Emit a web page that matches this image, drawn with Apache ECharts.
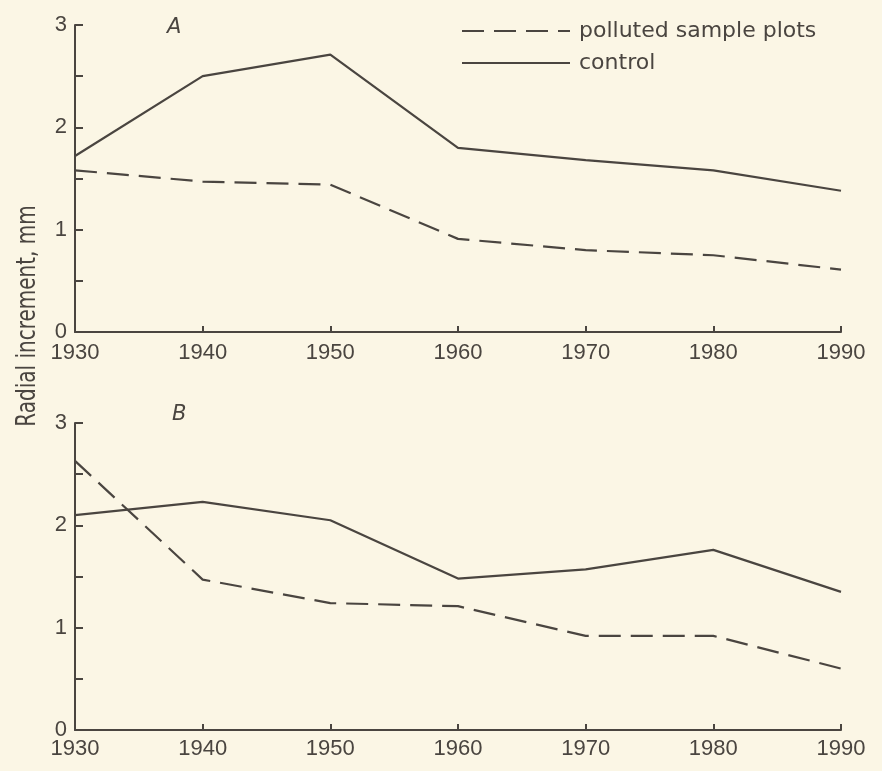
<!DOCTYPE html>
<html>
<head>
<meta charset="utf-8">
<script src="https://cdn.jsdelivr.net/npm/echarts@6/dist/echarts.min.js"></script>
<style>
html,body{margin:0;padding:0;background:#fbf6e5;}
#chart{width:882px;height:771px;}
</style>
</head>
<body>
<div id="chart"></div>
<script>
const years = [1930, 1940, 1950, 1960, 1970, 1980, 1990];
const controlA = [1.72, 2.50, 2.71, 1.80, 1.68, 1.58, 1.38];
const pollutedA = [1.58, 1.47, 1.44, 0.91, 0.80, 0.75, 0.61];
const controlB = [2.10, 2.23, 2.05, 1.48, 1.57, 1.76, 1.35];
const pollutedB = [2.63, 1.47, 1.24, 1.21, 0.92, 0.92, 0.60];
const yTickLabels = ['0', '1', '2', '3'];
const seriesNames = ['polluted sample plots', 'control'];
const panelLabels = ['A', 'B'];
const yTitle = 'Radial increment, mm';

const ink = '#4a4540';
const numFont = 'Liberation Sans';
const pairs = d => years.map((y, i) => [y, d[i]]);

function xAxis(gi) {
  return {
    type: 'value', gridIndex: gi, min: 1930, max: 1990, interval: 10,
    axisLine: {lineStyle: {color: ink, width: 2}},
    axisTick: {inside: true, length: 6, lineStyle: {color: ink, width: 2}},
    splitLine: {show: false},
    axisLabel: {color: ink, fontSize: 22, fontFamily: numFont, margin: gi === 0 ? 10 : 8,
      formatter: v => String(v)}
  };
}
function yAxis(gi) {
  return {
    type: 'value', gridIndex: gi, min: 0, max: 3, interval: 0.5,
    axisLine: {show: true, lineStyle: {color: ink, width: 2}},
    axisTick: {show: true, inside: true, length: 8, lineStyle: {color: ink, width: 2}},
    splitLine: {show: false},
    axisLabel: {color: ink, fontSize: 22, fontFamily: numFont, margin: 8,
      formatter: v => (Math.abs(v - Math.round(v)) < 1e-9 ? yTickLabels[Math.round(v)] : '')}
  };
}
function lineSeries(name, data, gi, dashed) {
  return {
    name: name, type: 'line', xAxisIndex: gi, yAxisIndex: gi,
    data: pairs(data), symbol: 'none', silent: true,
    lineStyle: {color: ink, width: 2.2, type: dashed ? [22, 10] : 'solid'},
    itemStyle: {color: ink}
  };
}

const chart = echarts.init(document.getElementById('chart'), null, {renderer: 'canvas'});
chart.setOption({
  backgroundColor: '#fbf6e5',
  animation: false,
  grid: [
    {left: 75, right: 41, top: 25, bottom: 439},
    {left: 75, right: 41, top: 423, bottom: 41}
  ],
  xAxis: [xAxis(0), xAxis(1)],
  yAxis: [yAxis(0), yAxis(1)],
  legend: {
    orient: 'vertical', left: 461, top: 20, padding: 0,
    itemWidth: 108, itemHeight: 14, itemGap: 10,
    selectedMode: false,
    data: seriesNames,
    itemStyle: {opacity: 0},
    textStyle: {color: ink, fontSize: 22, fontFamily: 'DejaVu Sans', padding: [0, 0, 0, 4]}
  },
  graphic: [
    {type: 'text', left: 167, top: 17, style: {text: panelLabels[0], fill: ink,
      font: 'italic 21px "DejaVu Sans"'}},
    {type: 'text', left: 172, top: 404, style: {text: panelLabels[1], fill: ink,
      font: 'italic 21px "DejaVu Sans"'}},
    {type: 'text', x: 28, y: 316, rotation: Math.PI / 2, scaleY: 1.3,
      style: {text: yTitle, fill: ink, font: '20px "DejaVu Sans"', align: 'center', verticalAlign: 'middle'}}
  ],
  series: [
    lineSeries(seriesNames[0], pollutedA, 0, true),
    lineSeries(seriesNames[1], controlA, 0, false),
    lineSeries(seriesNames[0], pollutedB, 1, true),
    lineSeries(seriesNames[1], controlB, 1, false)
  ]
});
</script>
</body>
</html>
